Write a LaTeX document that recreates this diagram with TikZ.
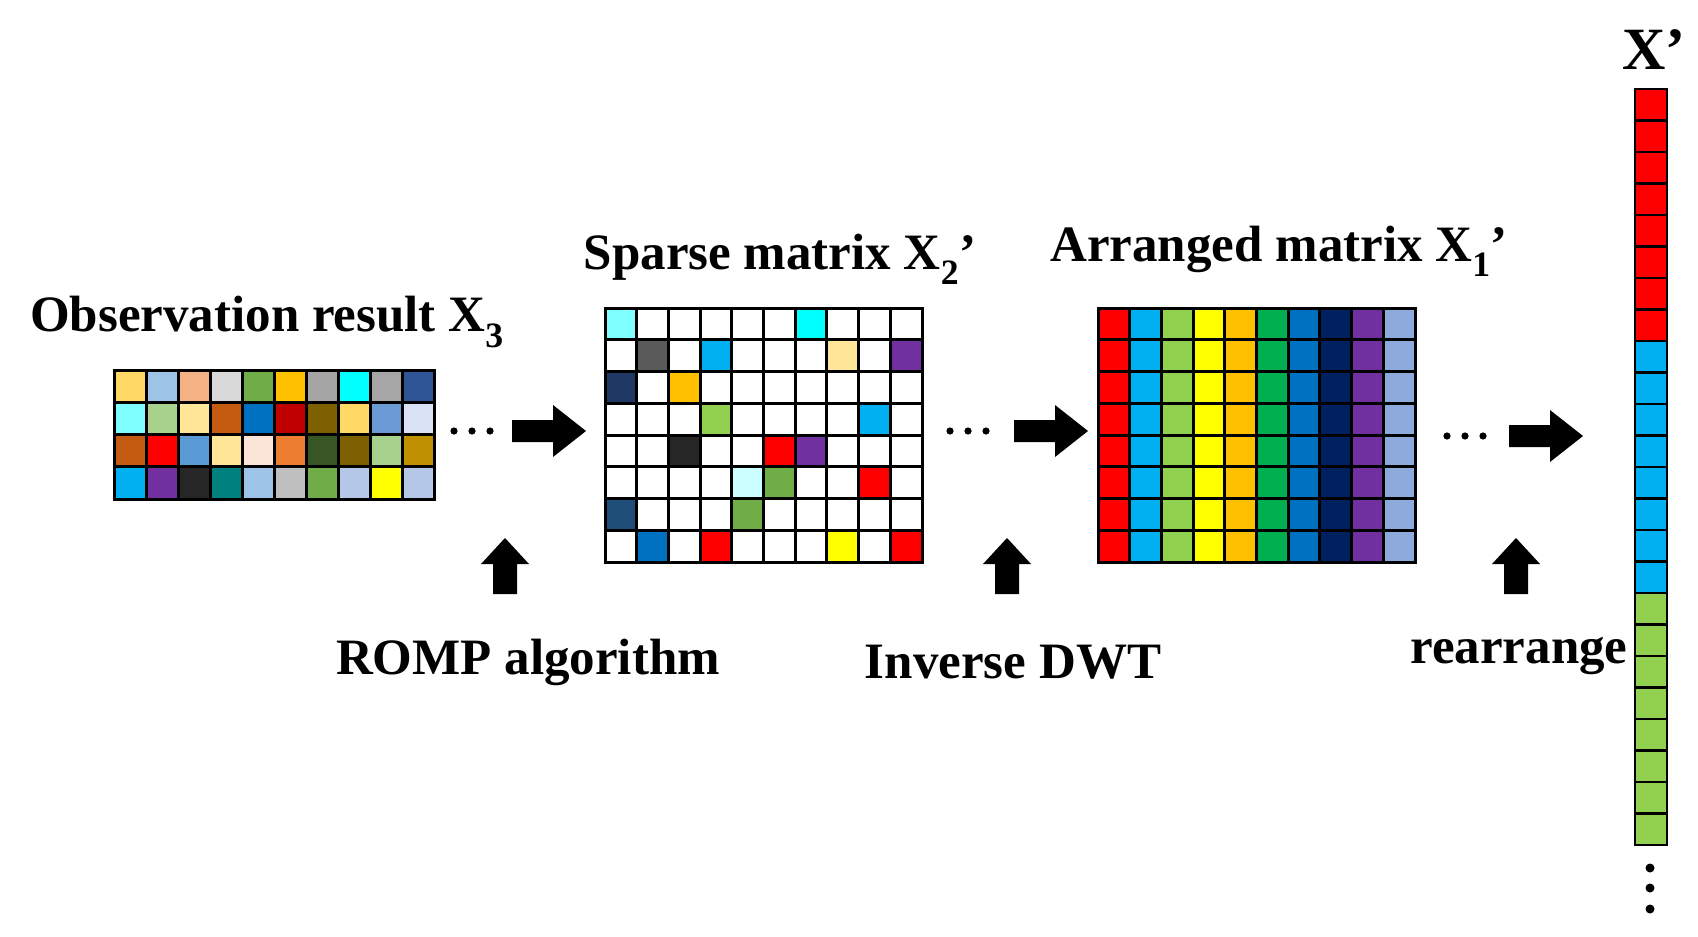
\documentclass[tikz,border=0pt]{standalone}
\usepackage{fontspec}
\setmainfont{Liberation Serif}
\begin{document}
\begin{tikzpicture}[x=1pt,y=-1pt,
  cell/.style={draw=black,line width=3},
  lbl/.style={font=\fontsize{51}{56}\selectfont\bfseries,inner sep=0}]
\useasboundingbox (0,0) rectangle (1698,937);
% Observation result grid
\foreach \row [count=\r] in {{FFD966,9DC3E6,F4B183,D9D9D9,70AD47,FFC000,A5A5A5,00FFFF,A6A6A6,2F5597},
 {7FFFFF,A9D18E,FFE699,C55A11,0070C0,C00000,7F6000,FFD966,6A9BD4,DAE3F3},
 {C55A11,FF0000,5B9BD5,FFE699,FBE5D6,ED7D31,375623,7F6000,A9D18E,BF9000},
 {00B0F0,7030A0,262626,00807F,9DC3E6,BFBFBF,70AD47,B4C7E7,FFFF00,B4C7E7}}
 \foreach \c [count=\k] in \row {
  \definecolor{tmp}{HTML}{\c}
  \filldraw[cell,fill=tmp] (114+32*\k-32,370+32.25*\r-32.25) rectangle ++(32,32.25);
 }
% Sparse grid
\foreach \r in {1,...,8} \foreach \k in {1,...,10}
  \draw[cell,fill=white] (605+31.7*\k-31.7,308+31.75*\r-31.75) rectangle ++(31.7,31.75);
\foreach \r/\k/\c in {1/1/7FFFFF,1/7/00FFFF,2/2/595959,2/4/00B0F0,2/8/FFE699,2/10/7030A0,
  3/1/203864,3/3/FFC000,4/4/92D050,4/9/00B0F0,5/3/262626,5/6/FF0000,5/7/7030A0,
  6/5/CCFFFF,6/6/70AD47,6/9/FF0000,7/1/1F4E79,7/5/70AD47,8/2/0070C0,8/4/FF0000,8/8/FFFF00,8/10/FF0000}{
  \definecolor{tmp}{HTML}{\c}
  \filldraw[cell,fill=tmp] (605+31.7*\k-31.7,308+31.75*\r-31.75) rectangle ++(31.7,31.75);
}
% Arranged grid
\foreach \c [count=\k] in {FF0000,00B0F0,92D050,FFFF00,FFC000,00B050,0070C0,002060,7030A0,8EA9DB}{
  \definecolor{tmp}{HTML}{\c}
  \foreach \r in {1,...,8}
   \filldraw[cell,fill=tmp] (1098+31.7*\k-31.7,308+31.75*\r-31.75) rectangle ++(31.7,31.75);
}
% X' column
\foreach \c [count=\g] in {FF0000,00B0F0,92D050}{
  \definecolor{tmp}{HTML}{\c}
  \foreach \r in {1,...,8}
   \filldraw[cell,line width=2.5,fill=tmp] (1635,89+31.5*\r-31.5+252*\g-252) rectangle ++(32,31.5);
}
\foreach \yy in {868,888,909} \fill (1650,\yy) circle (4.5);
% labels
\node[lbl] (t1) at (267,322) {Observation result X\textsubscript{3}};
\node[lbl] (t2) at (780,259) {Sparse matrix X\textsubscript{2}’};
\node[lbl] (t3) at (1279,251) {Arranged matrix X\textsubscript{1}’};
\node[lbl] (t4) at (528,662) {ROMP algorithm};
\node[lbl] (t5) at (1013,662) {Inverse DWT};
\node[lbl] (t6) at (1519,656) {rearrange};
\node[lbl,font=\fontsize{60}{62}\selectfont\bfseries] (tx) at (1654,50) {X’};
% dots
\foreach \cx/\cy in {472/431,968/431,1465/436}
  \foreach \dx in {-18,0,18} \fill (\cx+\dx,\cy) circle (3.6);
% right arrows
\foreach \cx/\cy [count=\i] in {549/431,1051/431,1546/436}{
  \coordinate (a\i) at (\cx,\cy);
  \fill[shift={(a\i)}] (-37,-11) -- (4,-11) -- (4,-26) -- (37,0) -- (4,26) -- (4,11) -- (-37,11) -- cycle;
}
% up arrows
\foreach \cx [count=\i] in {505,1007,1516}{
  \coordinate (u\i) at (\cx,566);
  \fill[shift={(u\i)}] (-12,28) -- (-12,-2) -- (-24,-2) -- (0,-28) -- (24,-2) -- (12,-2) -- (12,28) -- cycle;
}
\end{tikzpicture}
\end{document}
